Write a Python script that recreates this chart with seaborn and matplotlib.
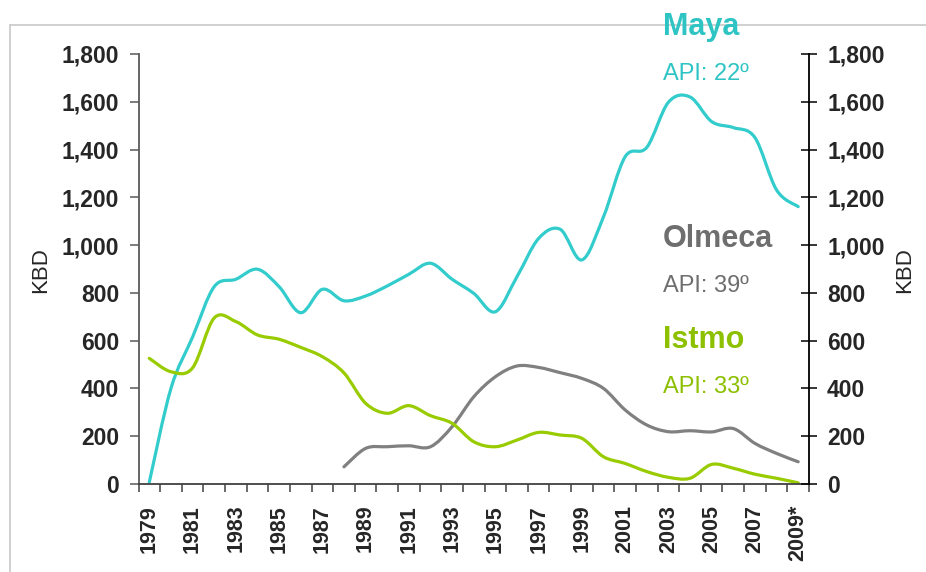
import numpy as np
import pandas as pd
import matplotlib
matplotlib.use("Agg")
import matplotlib.pyplot as plt
from matplotlib.lines import Line2D
from matplotlib.path import Path
from matplotlib.transforms import IdentityTransform
from matplotlib import patheffects
import seaborn as sns

# ---- data ----
years = [str(y) for y in range(1979, 2009)] + ["2009*"]
maya = [8, 400, 615, 826, 857, 899, 826, 717, 815, 767, 787, 829, 878, 924, 857,
        798, 721, 868, 1028, 1066, 938, 1119, 1370, 1409, 1598, 1620, 1517, 1492,
        1450, 1231, 1161]
olmeca = [np.nan] * 9 + [72, 149, 156, 160, 156, 240, 365, 449, 494, 488, 466, 442,
                         400, 310, 247, 219, 223, 218, 232, 170, 128, 93]
istmo = [526, 470, 486, 695, 680, 624, 606, 572, 533, 465, 338, 296, 328, 286, 254,
         177, 156, 184, 216, 205, 191, 114, 86, 52, 28, 24, 82, 66, 41, 24, 5]
series_names = ["Maya", "Olmeca", "Istmo"]
api_labels = ["API: 22º", "API: 39º", "API: 33º"]
y_ticks = list(range(0, 1801, 200))

colors = {"Maya": "#33CCCC", "Olmeca": "#808080", "Istmo": "#99CC00"}
text_colors = {"Maya": "#2EC4C4", "Olmeca": "#6E6E6E", "Istmo": "#8CC000"}


class SmoothStroke(patheffects.AbstractPathEffect):
    """Render a polyline as a smoothed (Excel-like) Bezier curve."""

    def draw_path(self, renderer, gc, tpath, affine, rgbFace=None):
        pts = affine.transform(tpath.vertices)
        n = len(pts)
        if n < 3:
            renderer.draw_path(gc, tpath, affine, rgbFace)
            return
        verts = [pts[0]]
        codes = [Path.MOVETO]
        for i in range(n - 1):
            p0 = pts[i - 1] if i > 0 else pts[i]
            p1 = pts[i]
            p2 = pts[i + 1]
            p3 = pts[i + 2] if i + 2 < n else pts[i + 1]
            verts += [p1 + (p2 - p0) / 6.0, p2 - (p3 - p1) / 6.0, p2]
            codes += [Path.CURVE4] * 3
        renderer.draw_path(gc, Path(np.array(verts), codes), IdentityTransform(), None)


sns.set_style("white")
plt.rcParams["font.family"] = ["Liberation Sans", "DejaVu Sans"]
plt.rcParams["path.simplify"] = False

pos = list(range(len(years)))
df = pd.concat([
    pd.DataFrame({"pos": pos, "value": vals, "series": name})
    for name, vals in zip(series_names, [maya, olmeca, istmo])
])
df = df.dropna()

W, H = 926, 572
fig = plt.figure(figsize=(W / 100, H / 100), dpi=100)
left, right, top, bottom = 138.5, 809, 54, 484
ax = fig.add_axes([left / W, 1 - bottom / H, (right - left) / W, (bottom - top) / H])

sns.lineplot(data=df, x="pos", y="value", hue="series", palette=colors,
             hue_order=series_names, linewidth=2.3, ax=ax, legend=False,
             sort=False, estimator=None)
for l in ax.lines:
    l.set_solid_joinstyle("round")
    l.set_solid_capstyle("round")
    l.set_path_effects([SmoothStroke()])

ax.set_xlim(-0.5, len(years) - 0.5)
ax.set_ylim(0, 1800)
ax.set_xlabel("")
ax.set_ylabel("")

# y axis (left)
ax.set_yticks(y_ticks)
ax.set_yticklabels([f"{v:,}" for v in y_ticks], fontsize=16.5, fontweight="bold")
ax.tick_params(axis="y", direction="out", length=6.5, width=1.1, color="#595959",
               pad=7.5, left=True)

# x axis
label_pos = [i for i in pos if i % 2 == 0]
ax.set_xticks(label_pos)
ax.set_xticklabels([years[i] for i in label_pos], rotation=90, fontsize=15.5,
                   fontweight="bold")
ax.set_xticks([i - 0.5 for i in range(len(years) + 1)], minor=True)
ax.tick_params(axis="x", which="major", length=0, pad=15)
ax.tick_params(axis="x", which="minor", direction="out", length=5.8, width=1.1,
               color="#404040", bottom=True)

for s in ["top", "right"]:
    ax.spines[s].set_visible(False)
ax.spines["left"].set_color("#595959")
ax.spines["left"].set_linewidth(1.3)
ax.spines["bottom"].set_color("#404040")
ax.spines["bottom"].set_linewidth(1.3)

# right axis
ax2 = ax.twinx()
ax2.set_ylim(0, 1800)
ax2.set_yticks(y_ticks)
ax2.set_yticklabels([f"{v:,}" for v in y_ticks], fontsize=16.5, fontweight="bold")
ax2.tick_params(axis="y", direction="inout", length=12, width=1.1, color="black",
                pad=7)
for s in ["top", "left", "bottom"]:
    ax2.spines[s].set_visible(False)
ax2.spines["right"].set_color("black")
ax2.spines["right"].set_linewidth(1.3)

# axis titles
fig.text(41 / W, 1 - 270 / H, "KBD", rotation=90, ha="center", va="center",
         fontsize=16)
fig.text(905 / W, 1 - 270 / H, "KBD", rotation=90, ha="center", va="center",
         fontsize=16)

# border lines
fig.add_artist(Line2D([9.5 / W, 9.5 / W], [1 - 25 / H, 0], color="#C8C8C8", lw=1.2))
fig.add_artist(Line2D([9.5 / W, 1], [1 - 25 / H, 1 - 25 / H], color="#C8C8C8", lw=1.2))

# annotations
title_base = [35, 247, 348]
api_base = [80, 292, 393]
for name, api, tb, ab in zip(series_names, api_labels, title_base, api_base):
    fig.text(663 / W, 1 - tb / H, name, ha="left", va="baseline", fontsize=22,
             fontweight="bold", color=text_colors[name])
    fig.text(663 / W, 1 - ab / H, api, ha="left", va="baseline", fontsize=17,
             color=text_colors[name])

fig.savefig("out.png", dpi=100, facecolor="white")
